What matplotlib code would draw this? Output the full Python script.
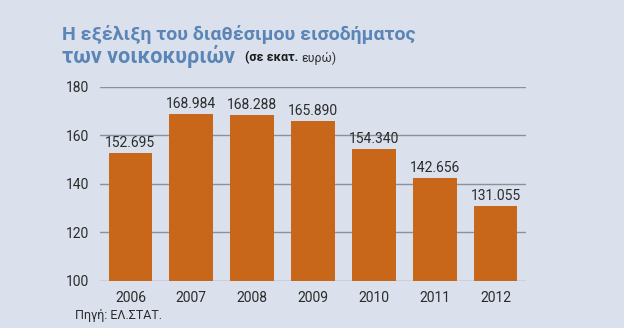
import matplotlib
matplotlib.use("Agg")
import matplotlib.pyplot as plt

years = ["2006", "2007", "2008", "2009", "2010", "2011", "2012"]
values = [152.695, 168.984, 168.288, 165.890, 154.340, 142.656, 131.055]
value_labels = ["152.695", "168.984", "168.288", "165.890", "154.340", "142.656", "131.055"]
yticks = [100, 120, 140, 160, 180]

FONT = "Roboto"
BG = "#dae1ec"
BAR = "#c8661a"
TITLE = "#5b85b6"
TXT = "#2b2b2b"

fig = plt.figure(figsize=(6.24, 3.28), dpi=100, facecolor=BG)
ax = fig.add_axes([100/624, 1-281/328, 426/624, 194/328], facecolor=BG)

x = list(range(len(years)))
ax.bar(x, values, width=0.72, color=BAR, zorder=3)
ax.set_ylim(100, 180)
ax.set_xlim(-0.5, 6.5)
ax.set_yticks(yticks)
ax.set_yticklabels([str(t) for t in yticks], family=FONT)
ax.yaxis.grid(True, color="#8b919b", linewidth=1.0, zorder=0)
ax.set_xticks(x)
ax.set_xticklabels(years, family=FONT)
for s in ax.spines.values():
    s.set_visible(False)
ax.tick_params(axis="both", length=0, labelsize=10, colors=TXT)
ax.tick_params(axis="y", pad=8)
ax.tick_params(axis="x", pad=7)

for xi, v, l in zip(x, values, value_labels):
    ax.text(xi, v + 1.2, l, ha="center", va="bottom", fontsize=10, color=TXT,
            family=FONT, zorder=4)

fig.text(62/624, 1-34/328, "Η εξέλιξη του διαθέσιμου εισοδήματος", fontsize=14,
         fontweight="bold", color=TITLE, va="center", ha="left", family=FONT)
t2 = fig.text(62/624, 1-57/328, "των νοικοκυριών", fontsize=15.5,
              fontweight="bold", color=TITLE, va="center", ha="left", family=FONT)
fig.canvas.draw()
b2 = t2.get_window_extent()
sub1 = fig.text((b2.x1 + 10)/624, 1-58/328, "(σε εκατ.", fontsize=9, fontweight="bold",
                color="#1a1a1a", va="center", ha="left", family=FONT)
fig.canvas.draw()
bb = sub1.get_window_extent()
fig.text((bb.x1 + 3)/624, 1-58/328, "ευρώ)", fontsize=9, color="#333333",
         va="center", ha="left", family=FONT)

fig.text(75/624, 1-316/328, "Πηγή: ΕΛ.ΣΤΑΤ.", fontsize=9, color=TXT, va="center", ha="left",
         family=FONT)

fig.savefig("out.png", dpi=100, facecolor=BG)
